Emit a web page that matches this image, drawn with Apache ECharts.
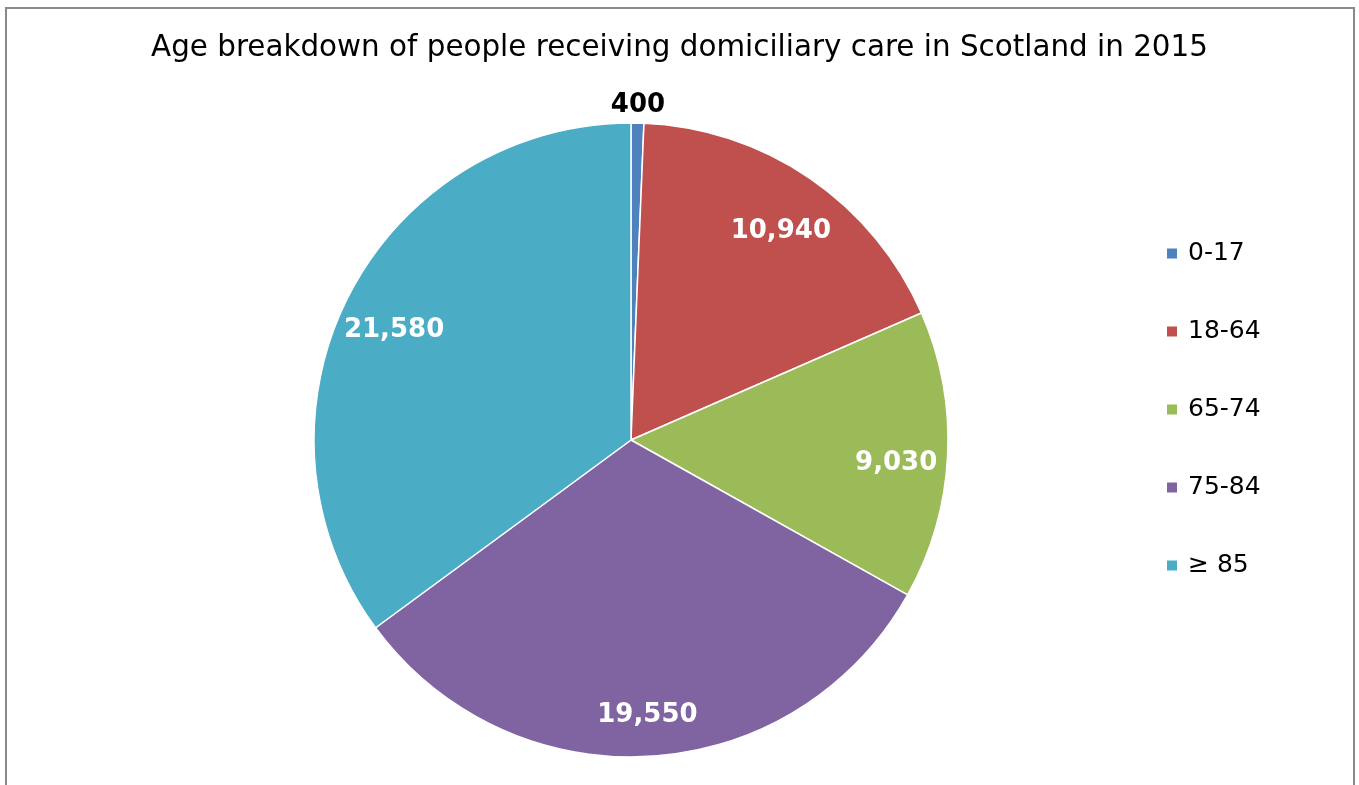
<!DOCTYPE html>
<html>
<head>
<meta charset="utf-8">
<script src="https://cdn.jsdelivr.net/npm/echarts@6/dist/echarts.min.js"></script>
<style>
html,body{margin:0;padding:0;background:#fff;}
#chart{width:1359px;height:785px;}
</style>
</head>
<body>
<div id="chart"></div>
<script>
const titleText = 'Age breakdown of people receiving domiciliary care in Scotland in 2015';
const categories = ['0-17', '18-64', '65-74', '75-84', '\u2265 85'];
const values = [400, 10940, 9030, 19550, 21580];
const colors = ['#4F81BD', '#C0504D', '#9BBB59', '#8064A2', '#4BACC6'];

const fmt = v => v.toLocaleString('en-US');
const center = [631, 440];
const R = 317;

const baseData = categories.map((c, i) => ({ name: c, value: values[i], itemStyle: { color: colors[i] } }));

const chart = echarts.init(document.getElementById('chart'));
chart.setOption({
  backgroundColor: '#fff',
  animation: false,
  title: {
    text: titleText,
    left: 'center',
    top: 29,
    textStyle: { fontFamily: 'DejaVu Sans', fontWeight: 'normal', fontSize: 29.4, color: '#000' }
  },
  legend: {
    orient: 'vertical',
    left: 1160,
    top: 236,
    icon: 'rect',
    itemWidth: 12,
    itemHeight: 12,
    itemGap: 53,
    data: categories,
    textStyle: { fontFamily: 'DejaVu Sans', fontSize: 25, color: '#000', lineHeight: 24, padding: [0, 0, 0, 5] }
  },
  graphic: [{
    type: 'rect',
    shape: { x: 6, y: 8, width: 1348, height: 800 },
    style: { fill: 'none', stroke: '#898989', lineWidth: 2 },
    silent: true
  }],
  series: [
    {
      type: 'pie',
      center: center,
      radius: [0, R],
      startAngle: 90,
      clockwise: true,
      label: { show: false },
      labelLine: { show: false },
      itemStyle: { borderColor: '#fff', borderWidth: 1.5 },
      emphasis: { disabled: true },
      data: baseData
    },
    {
      type: 'pie',
      center: center,
      radius: [196, R + 12],
      startAngle: 90,
      clockwise: true,
      silent: true,
      legendHoverLink: false,
      itemStyle: { color: 'rgba(0,0,0,0)' },
      labelLine: { show: false },
      label: {
        show: true,
        position: 'inside',
        formatter: p => '{s|}\n{v|' + fmt(p.value) + '}',
        rich: {
          s: { height: 20, lineHeight: 20, fontSize: 1 },
          v: { fontFamily: 'DejaVu Sans', fontWeight: 'bold', fontSize: 26, lineHeight: 30, color: '#fff' }
        }
      },
      data: categories.map((c, i) => ({
        name: c, value: values[i],
        label: { show: i !== 0 }
      }))
    },
    {
      type: 'pie',
      center: center,
      radius: [R, R + 40],
      startAngle: 90,
      clockwise: true,
      silent: true,
      legendHoverLink: false,
      itemStyle: { color: 'rgba(0,0,0,0)' },
      labelLine: { show: false },
      label: {
        show: true,
        position: 'inside',
        formatter: p => '{s|}\n{v|' + fmt(p.value) + '}',
        rich: {
          s: { height: 10, lineHeight: 10, fontSize: 1 },
          v: { fontFamily: 'DejaVu Sans', fontWeight: 'bold', fontSize: 26, lineHeight: 30, color: '#000' }
        }
      },
      data: categories.map((c, i) => ({
        name: c, value: values[i],
        label: { show: i === 0 }
      }))
    }
  ]
});
</script>
</body>
</html>
